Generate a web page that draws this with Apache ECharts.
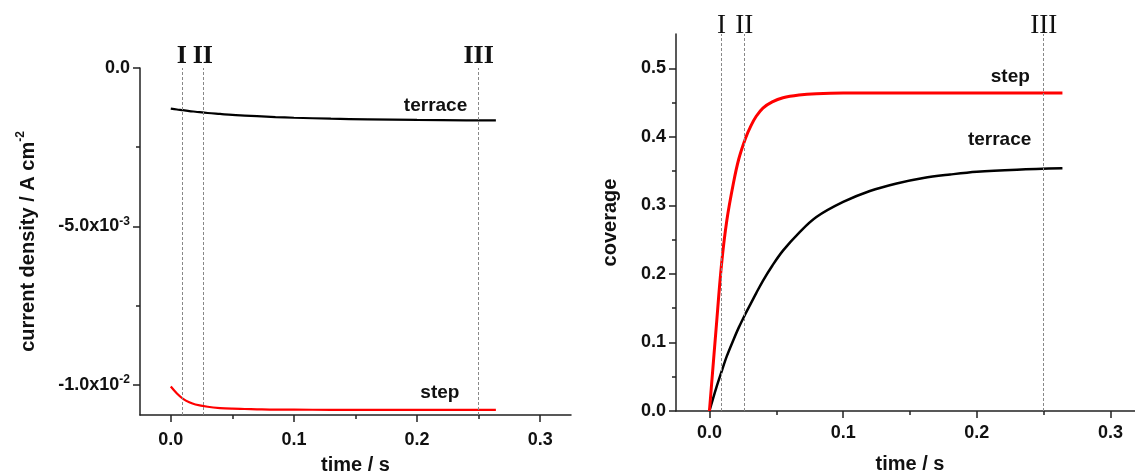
<!DOCTYPE html>
<html>
<head>
<meta charset="utf-8">
<script src="https://cdn.jsdelivr.net/npm/echarts@6/dist/echarts.min.js"></script>
<style>
  html, body { margin: 0; padding: 0; background: #fff; }
  #chart { width: 1135px; height: 471px; }
</style>
</head>
<body>
<div id="chart"></div>
<script>
// 左图：电流密度
const currentTime = [0, 0.005, 0.01, 0.015, 0.02, 0.03, 0.04, 0.05, 0.06, 0.07, 0.085, 0.1, 0.13, 0.16, 0.2, 0.24, 0.264];
const currentTerrace = [-0.00128, -0.00131, -0.00133, -0.00136, -0.00138, -0.00142, -0.00145, -0.00148, -0.0015, -0.00152, -0.00155, -0.00157, -0.0016, -0.00162, -0.00164, -0.00165, -0.00165];
const currentStep = [-0.01005, -0.01027, -0.01044, -0.01055, -0.01062, -0.01069, -0.01073, -0.01075, -0.01076, -0.01077, -0.01078, -0.01078, -0.01079, -0.01079, -0.01079, -0.01079, -0.01079];

// 右图：覆盖度
const coverTime = [0, 0.005, 0.009, 0.013, 0.018, 0.022, 0.027, 0.031, 0.035, 0.04, 0.047, 0.055, 0.067, 0.08, 0.1, 0.12, 0.14, 0.16, 0.18, 0.2, 0.23, 0.264];
const coverStep = [0, 0.12, 0.213, 0.278, 0.333, 0.368, 0.398, 0.416, 0.43, 0.442, 0.451, 0.457, 0.461, 0.463, 0.464, 0.464, 0.464, 0.464, 0.464, 0.464, 0.464, 0.464];
const coverTerrace = [0, 0.033, 0.057, 0.08, 0.104, 0.122, 0.142, 0.157, 0.172, 0.19, 0.212, 0.234, 0.26, 0.283, 0.305, 0.321, 0.332, 0.34, 0.345, 0.349, 0.352, 0.354];

// 竖虚线 I / II / III
const markerNames = ['I', 'II', 'III'];
const markerTimes = [0.009, 0.026, 0.25];

// 坐标轴范围
const timeRange = [-0.025, 0.325];
const currentRange = [-0.01095, 0];
const coverRange = [0, 0.55];

// 刻度
const timeTicks = [0, 0.1, 0.2, 0.3];
const timeMinorTicks = [0.05, 0.15, 0.25];
const currentTicks = [0, -0.005, -0.01];
const currentMinorTicks = [-0.0025, -0.0075];
const coverTicks = [0, 0.1, 0.2, 0.3, 0.4, 0.5];
const coverMinorTicks = [0.05, 0.15, 0.25, 0.35, 0.45];

const sansFont = 'Liberation Sans';
const serifFont = 'Liberation Serif';
const axisColor = '#222';

/**
 * 科学计数法标签，例如 -5.0x10^-3
 */
function sciLabel(v) {
  if (v === 0) return '{b|0.0}';
  const exp = Math.floor(Math.log10(Math.abs(v)));
  const mant = (v / Math.pow(10, exp)).toFixed(1);
  return '{b|' + mant + 'x10}{s|' + exp + '}';
}

const richText = {
  b: { fontFamily: sansFont, fontWeight: 'bold', fontSize: 18, color: '#111', lineHeight: 22 },
  s: { fontFamily: sansFont, fontWeight: 'bold', fontSize: 12, color: '#111', verticalAlign: 'top', lineHeight: 22 }
};

function mainAxis(gridIndex, position, range, ticks, formatter, name, nameGap, margin) {
  return {
    type: 'value',
    gridIndex: gridIndex,
    position: position,
    min: range[0],
    max: range[1],
    name: name,
    nameLocation: 'middle',
    nameGap: nameGap,
    nameTextStyle: {
      fontFamily: sansFont, fontWeight: 'bold', fontSize: 20, color: '#111',
      rich: {
        b: { fontFamily: sansFont, fontWeight: 'bold', fontSize: 20, color: '#111', lineHeight: 26 },
        s: { fontFamily: sansFont, fontWeight: 'bold', fontSize: 12, color: '#111', verticalAlign: 'top', lineHeight: 26 }
      }
    },
    axisLine: { show: true, onZero: false, lineStyle: { color: axisColor, width: 1.5 } },
    axisTick: { show: true, inside: false, length: 7, customValues: ticks, lineStyle: { color: axisColor, width: 1.5 } },
    axisLabel: { customValues: ticks, formatter: formatter, margin: margin, rich: richText },
    splitLine: { show: false },
    minorTick: { show: false }
  };
}

function minorAxis(gridIndex, position, range, ticks) {
  return {
    type: 'value',
    gridIndex: gridIndex,
    position: position,
    min: range[0],
    max: range[1],
    axisLine: { show: false, onZero: false },
    axisTick: { show: true, inside: false, length: 4, customValues: ticks, lineStyle: { color: axisColor, width: 1.5 } },
    axisLabel: { show: false },
    splitLine: { show: false }
  };
}

const timeFmt = v => '{b|' + v.toFixed(1) + '}';

// 竖虚线用起止坐标，避免吸附到数据点
function markLineOf(bold, dist, yRange) {
  return {
    silent: true,
    symbol: ['none', 'none'],
    lineStyle: { type: [3, 2], color: '#888', width: 1 },
    label: {
      show: true,
      position: 'end',
      distance: dist,
      formatter: '{b}',
      fontFamily: serifFont,
      fontWeight: bold ? 'bold' : 'normal',
      fontSize: bold ? 26 : 27,
      color: '#111'
    },
    data: markerTimes.map((t, i) => [
      { coord: [t, yRange[0]], name: markerNames[i] },
      { coord: [t, yRange[1]] }
    ])
  };
}

function textMark(coord, text) {
  return {
    coord: coord,
    value: text,
    symbol: 'circle',
    symbolSize: 1,
    itemStyle: { color: 'rgba(0,0,0,0)' },
    label: {
      show: true,
      position: 'inside',
      formatter: text,
      fontFamily: sansFont,
      fontWeight: 'bold',
      fontSize: 19,
      color: '#111'
    }
  };
}

const chart = echarts.init(document.getElementById('chart'), null, { renderer: 'canvas' });

chart.setOption({
  animation: false,
  backgroundColor: '#fff',
  grid: [
    { left: 140, top: 68, width: 431, height: 347, containLabel: false, outerBoundsMode: 'none' },
    { left: 676, top: 34, width: 468, height: 377, containLabel: false, outerBoundsMode: 'none' }
  ],
  xAxis: [
    mainAxis(0, 'bottom', timeRange, timeTicks, timeFmt, 'time / s', 40, 14),
    minorAxis(0, 'bottom', timeRange, timeMinorTicks),
    mainAxis(1, 'bottom', timeRange, timeTicks, timeFmt, 'time / s', 43, 11),
    minorAxis(1, 'bottom', timeRange, timeMinorTicks)
  ],
  yAxis: [
    mainAxis(0, 'left', currentRange, currentTicks, sciLabel, '{b|current density / A cm}{s|-2}', 99, 10),
    minorAxis(0, 'left', currentRange, currentMinorTicks),
    mainAxis(1, 'left', coverRange, coverTicks, v => '{b|' + v.toFixed(1) + '}', 'coverage', 56, 10),
    minorAxis(1, 'left', coverRange, coverMinorTicks)
  ],
  series: [
    {
      name: 'terrace-current',
      type: 'line',
      xAxisIndex: 0,
      yAxisIndex: 0,
      data: currentTime.map((t, i) => [t, currentTerrace[i]]),
      smooth: 0.35,
      showSymbol: false,
      lineStyle: { color: '#000', width: 2.2 },
      markLine: markLineOf(true, -1, currentRange),
      markPoint: { data: [textMark([0.215, -0.00119], 'terrace')] }
    },
    {
      name: 'step-current',
      type: 'line',
      xAxisIndex: 0,
      yAxisIndex: 0,
      data: currentTime.map((t, i) => [t, currentStep[i]]),
      smooth: 0.35,
      showSymbol: false,
      lineStyle: { color: '#ff0000', width: 2.2 },
      markPoint: { data: [textMark([0.2185, -0.01025], 'step')] }
    },
    {
      name: 'terrace-coverage',
      type: 'line',
      xAxisIndex: 2,
      yAxisIndex: 2,
      data: coverTime.map((t, i) => [t, coverTerrace[i]]),
      smooth: 0.35,
      showSymbol: false,
      lineStyle: { color: '#000', width: 2.5 },
      markLine: markLineOf(false, -5, coverRange),
      markPoint: { data: [textMark([0.217, 0.395], 'terrace')] }
    },
    {
      name: 'step-coverage',
      type: 'line',
      xAxisIndex: 2,
      yAxisIndex: 2,
      data: coverTime.map((t, i) => [t, coverStep[i]]),
      smooth: 0.35,
      showSymbol: false,
      lineStyle: { color: '#ff0000', width: 3 },
      markPoint: { data: [textMark([0.225, 0.488], 'step')] }
    }
  ]
});
</script>
</body>
</html>
